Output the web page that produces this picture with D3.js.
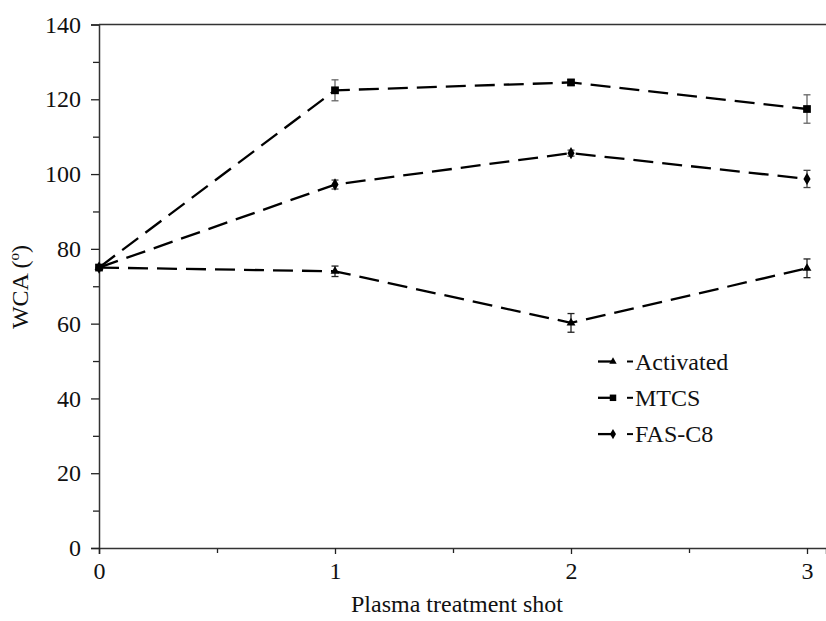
<!DOCTYPE html>
<html>
<head>
<meta charset="utf-8">
<script src="https://cdn.jsdelivr.net/npm/d3@7"></script>
<style>
  body { margin: 0; background: #fff; }
</style>
</head>
<body>
<div id="chart-area"></div>
<script>
// data
var shots = [0, 1, 2, 3]
var seriesNames = ['Activated', 'MTCS', 'FAS-C8']
var activated = [75, 74, 60.2, 74.8]
var activatedErr = [0, 1.4, 2.5, 2.5]
var mtcs = [75, 122.4, 124.5, 117.4]
var mtcsErr = [0, 2.8, 0.8, 3.8]
var fas = [75, 97.2, 105.6, 98.7]
var fasErr = [0, 1.2, 0.8, 2.3]
var yTicks = [0, 20, 40, 60, 80, 100, 120, 140]
var xTicks = [0, 1, 2, 3]

var serif = 'Liberation Serif'

var series = [
  { name: seriesNames[0], values: activated, err: activatedErr, symbol: d3.symbolTriangle, size: 34, errColor: '#222' },
  { name: seriesNames[1], values: mtcs, err: mtcsErr, symbol: d3.symbolSquare, size: 60, errColor: '#666' },
  { name: seriesNames[2], values: fas, err: fasErr, symbol: d3.symbolDiamond, size: 44, errColor: '#444' }
]

var W = 826
var H = 621
var margin = { left: 99, right: 0, top: 24.5, bottom: 73 }
var width = W - margin.left - margin.right
var height = H - margin.top - margin.bottom

var svg = d3.select('#chart-area')
  .append('svg')
  .attr('width', W)
  .attr('height', H)

var g = svg.append('g')
  .attr('transform', 'translate(' + margin.left + ', ' + margin.top + ')')

// x = 3 sits at about 708px, axis runs on to the page edge
var x = d3.scaleLinear()
  .domain([0, 3 * width / 708])
  .range([0, width])

var y = d3.scaleLinear()
  .domain([0, 140])
  .range([height, 0])

// top frame line
g.append('line')
  .attr('x1', 0).attr('x2', width)
  .attr('y1', 0).attr('y2', 0)
  .attr('stroke', '#333').attr('stroke-width', 1.5)

// y axis: minor ticks every 10, labels every 20
var yMinor = g.append('g')
  .call(d3.axisLeft(y).tickValues(d3.range(10, 140, 20)).tickSize(6).tickFormat(''))
var yAxis = g.append('g')
  .call(d3.axisLeft(y).tickValues(yTicks).tickSize(8).tickPadding(10))

// x axis: minor ticks at halves
var xMinor = g.append('g')
  .attr('transform', 'translate(0, ' + height + ')')
  .call(d3.axisBottom(x).tickValues([0.5, 1.5, 2.5]).tickSize(5).tickFormat(''))
var xAxis = g.append('g')
  .attr('transform', 'translate(0, ' + height + ')')
  .call(d3.axisBottom(x).tickValues(xTicks).tickSize(6).tickPadding(8).tickFormat(d3.format('d')))

g.selectAll('.tick text')
  .style('font-family', serif)
  .style('font-size', '24px')
  .attr('fill', '#111')
g.selectAll('.domain').attr('stroke', '#333').attr('stroke-width', 1.5)
g.selectAll('.tick line').attr('stroke', '#222').attr('stroke-width', 1.3)
xMinor.select('.domain').remove()
yMinor.select('.domain').remove()

// axis labels
g.append('text')
  .attr('x', x(1.5) + 4)
  .attr('y', height + 64)
  .style('font-family', serif)
  .style('font-size', '24px')
  .attr('fill', '#111')
  .attr('text-anchor', 'middle')
  .text('Plasma treatment shot')

var yLabel = svg.append('text')
  .attr('transform', 'translate(28, 287) rotate(-90)')
  .style('font-family', serif)
  .style('font-size', '24px')
  .attr('fill', '#111')
  .attr('text-anchor', 'middle')
yLabel.append('tspan').text('WCA (')
yLabel.append('tspan').style('font-size', '15px').attr('dy', -9).text('o')
yLabel.append('tspan').attr('dy', 9).text(')')

var line = d3.line()
  .x(function (d, i) { return x(shots[i]) })
  .y(function (d) { return y(d) })

series.forEach(function (s) {
  var sg = g.append('g')

  // error bars
  s.values.forEach(function (v, i) {
    if (!s.err[i]) return
    var cx = x(shots[i])
    sg.append('line')
      .attr('x1', cx).attr('x2', cx)
      .attr('y1', y(v - s.err[i])).attr('y2', y(v + s.err[i]))
      .attr('stroke', s.errColor).attr('stroke-width', 1.3)
    ;[v - s.err[i], v + s.err[i]].forEach(function (e) {
      sg.append('line')
        .attr('x1', cx - 3.5).attr('x2', cx + 3.5)
        .attr('y1', y(e)).attr('y2', y(e))
        .attr('stroke', s.errColor).attr('stroke-width', 1.3)
    })
  })

  sg.append('path')
    .datum(s.values)
    .attr('d', line)
    .attr('fill', 'none')
    .attr('stroke', '#000')
    .attr('stroke-width', 2.3)
    .attr('stroke-dasharray', '20,9')

  sg.selectAll('path.pt')
    .data(s.values)
    .enter().append('path')
    .attr('class', 'pt')
    .attr('transform', function (d, i) { return 'translate(' + x(shots[i]) + ',' + y(d) + ')' })
    .attr('d', d3.symbol().type(s.symbol).size(s.size))
    .attr('fill', '#000')
})

// legend
var legend = g.append('g')
  .attr('transform', 'translate(' + (598 - margin.left) + ', ' + (361.5 - margin.top) + ')')

series.forEach(function (s, i) {
  var row = legend.append('g').attr('transform', 'translate(0, ' + (i * 36.3) + ')')
  row.append('line')
    .attr('x1', 0).attr('x2', 16)
    .attr('stroke', '#000').attr('stroke-width', 2.3)
  row.append('path')
    .attr('transform', 'translate(15, 0)')
    .attr('d', d3.symbol().type(s.symbol).size(s.size * 0.7))
  row.append('line')
    .attr('x1', 29).attr('x2', 35)
    .attr('stroke', '#000').attr('stroke-width', 2)
  row.append('text')
    .attr('x', 37)
    .attr('y', 8)
    .style('font-family', serif)
    .style('font-size', '24px')
    .attr('fill', '#111')
    .text(s.name)
})
</script>
</body>
</html>
